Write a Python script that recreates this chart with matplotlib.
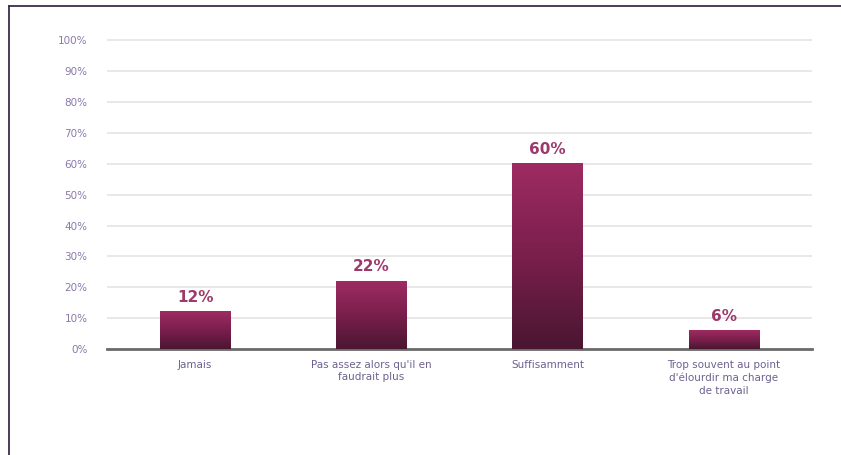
import numpy as np
import matplotlib.pyplot as plt
from matplotlib.colors import LinearSegmentedColormap
from matplotlib.lines import Line2D

# Réponses et pourcentages
categories = ["Jamais", "Pas assez alors qu'il en\nfaudrait plus", "Suffisamment",
              "Trop souvent au point\nd'élourdir ma charge\nde travail"]
values = [12, 22, 60, 6]
yticks = list(range(0, 101, 10))

fig = plt.figure(figsize=(8.41, 4.55), dpi=100)
ax = fig.add_axes([0.1272, 0.233, 0.8383, 0.681])

# cadre autour du graphique
fig.add_artist(Line2D([9 / 841, 9 / 841], [0, 1 - 6 / 455], transform=fig.transFigure,
                      color='#3b2d4f', lw=1.3))
fig.add_artist(Line2D([9 / 841, 1], [1 - 6 / 455, 1 - 6 / 455], transform=fig.transFigure,
                      color='#3b2d4f', lw=1.3))

x = np.arange(len(categories))
width = 0.4
cmap = LinearSegmentedColormap.from_list('bar', ['#4a1631', '#7a1f4c', '#9e2b62'])
grad = np.linspace(0, 1, 256).reshape(-1, 1)

for xi, v in zip(x, values):
    ax.imshow(grad, cmap=cmap, origin='lower', aspect='auto', zorder=3,
              extent=[xi - width / 2, xi + width / 2, 0, v])
    ax.annotate(f"{v}%", (xi, v), xytext=(0, 5), textcoords='offset points',
                ha='center', va='bottom', fontsize=11, fontweight='bold', color='#9c3a6c')

ax.set_xlim(-0.5, len(categories) - 0.5)
ax.set_ylim(0, 100.4)
ax.set_yticks(yticks)
ax.set_yticklabels([f"{t}%" for t in yticks], fontsize=7.5, color='#8a78a8')
ax.set_xticks(x)
ax.set_xticklabels(categories, fontsize=7.5, color='#6e6190', linespacing=1.3)

ax.grid(axis='y', color='#e4e4e4', lw=1.2)
ax.set_axisbelow(True)
for s in ['top', 'right', 'left']:
    ax.spines[s].set_visible(False)
ax.spines['bottom'].set_color('#6a6a6a')
ax.spines['bottom'].set_linewidth(2)
ax.tick_params(axis='both', length=0)
ax.tick_params(axis='y', pad=14)
ax.tick_params(axis='x', pad=8)

fig.savefig('out.png', dpi=100)
